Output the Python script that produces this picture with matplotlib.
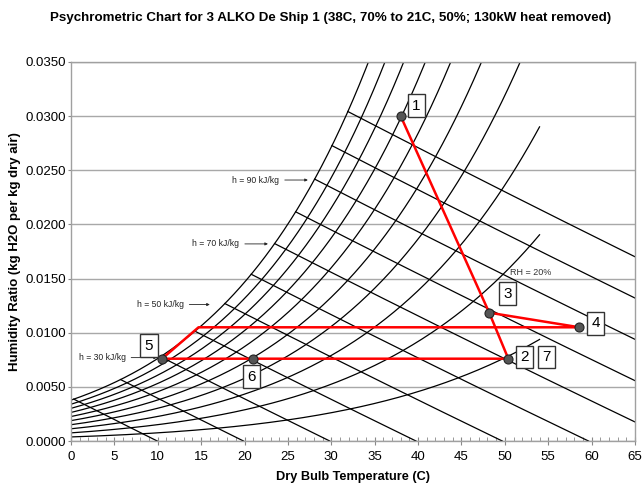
import numpy as np
import matplotlib
matplotlib.use('Agg')
import matplotlib.pyplot as plt
from matplotlib.ticker import MultipleLocator, FormatStrFormatter

plt.rcParams['font.family'] = ['Liberation Sans', 'DejaVu Sans']

# chart data
rh_levels = [10, 20, 30, 40, 50, 60, 70, 80, 90, 100]      # % relative humidity curves
h_levels = [10, 20, 30, 40, 50, 60, 70, 80, 90, 100, 110]  # kJ/kg enthalpy lines
rh_t_max = 54.0                                            # where the RH curves stop

state_ids = ['1', '2', '3', '4', '5', '6', '7']
state_T = [38.0, 50.4, 48.2, 58.6, 10.5, 21.0, 50.4]
state_w = [0.0300, 0.0076, 0.01185, 0.0105, 0.0076, 0.0076, 0.0076]

# process lines (red)
seg1_T = [38.0, 48.2, 50.4]
seg1_w = [0.0300, 0.01185, 0.0076]
seg2_T = [48.2, 58.6, 14.7, 10.5, 21.0, 50.4]
seg2_w = [0.01185, 0.0105, 0.0105, 0.0076, 0.0076, 0.0076]

h_label_vals = [90, 70, 50, 30]
h_label_T = [24.0, 19.4, 13.0, 6.3]
h_label_w = [0.0241, 0.0182, 0.0126, 0.0077]
h_tip_T = [27.3, 22.7, 16.0, 9.9]

P_ATM = 101.325


def p_sat(T):
    return 0.61094 * np.exp(17.625 * T / (T + 243.04))


def w_from_pv(pv):
    return 0.622 * pv / (P_ATM - pv)


fig = plt.figure(figsize=(6.44, 4.90), dpi=100)
ax = fig.add_axes([0.1102, 0.10, 0.8758, 0.7735])

# RH curves
T = np.linspace(0, rh_t_max, 300)
for rh in rh_levels:
    ax.plot(T, w_from_pv(rh / 100.0 * p_sat(T)), color='black', lw=0.9, zorder=2)

# enthalpy lines, from saturation down to w = 0
Tg = np.linspace(-5, 70, 4000)
wg = w_from_pv(p_sat(Tg))
hg = 1.006 * Tg + wg * (2501 + 1.86 * Tg)
for h in h_levels:
    t0 = np.interp(h, hg, Tg)
    Th = np.linspace(t0, h / 1.006, 200)
    wh = (h - 1.006 * Th) / (2501 + 1.86 * Th)
    ax.plot(Th, wh, color='black', lw=0.9, zorder=2)

# process path
ax.plot(seg1_T, seg1_w, color='red', lw=1.8, zorder=3)
ax.plot(seg2_T, seg2_w, color='red', lw=1.8, zorder=3)
ax.plot(state_T[:6], state_w[:6], 'o', color='#555555', mec='#222222',
        ms=6.5, mew=0.8, zorder=4, linestyle='none')

# state number boxes (offsets in points)
offsets = [(11.2, 7.6), (11.5, 1.1), (13, 13.7), (11.5, 2.9), (-9.4, 9.4),
           (-1.4, -13), (27.4, 1.1)]
for sid, t, w, off in zip(state_ids, state_T, state_w, offsets):
    ax.annotate(sid, (t, w), xytext=off, textcoords='offset points',
                ha='center', va='center', fontsize=11, zorder=5,
                bbox=dict(boxstyle='square,pad=0.28', fc='white', ec='#333333', lw=1))

# enthalpy labels
for hv, tx, wy, tip in zip(h_label_vals, h_label_T, h_label_w, h_tip_T):
    ax.annotate(f'h = {hv} kJ/kg', xy=(tip, wy), xytext=(tx, wy),
                ha='right', va='center', fontsize=6.2, color='#222222',
                arrowprops=dict(arrowstyle='-|>', lw=0.6, color='#222222',
                                mutation_scale=4, shrinkA=2, shrinkB=0))

ax.text(50.6, 0.0156, 'RH = 20%', fontsize=6.5, color='#333333', ha='left', va='center')

ax.set_xlim(0, 65)
ax.set_ylim(0, 0.035)
ax.xaxis.set_major_locator(MultipleLocator(5))
ax.xaxis.set_minor_locator(MultipleLocator(1))
ax.yaxis.set_major_locator(MultipleLocator(0.005))
ax.yaxis.set_major_formatter(FormatStrFormatter('%.4f'))
ax.tick_params(axis='x', which='major', direction='inout', length=6, color='#888888',
               labelsize=9.5, pad=4)
ax.tick_params(axis='x', which='minor', direction='in', length=3, color='#888888')
ax.tick_params(axis='y', which='major', direction='out', length=2.5, color='#888888',
               labelsize=9.5, pad=1.2)
ax.grid(True, axis='y', color='#a8a8a8', lw=1.0, zorder=1)
for sp in ax.spines.values():
    sp.set_color('#a0a0a0')
    sp.set_linewidth(1.0)

ax.set_xlabel('Dry Bulb Temperature (C)', fontsize=9.2, fontweight='bold', labelpad=6)
ax.set_ylabel('Humidity Ratio (kg H2O per kg dry air)', fontsize=9.5, fontweight='bold')
ax.yaxis.set_label_coords(-0.088, 0.5)
fig.suptitle('Psychrometric Chart for 3 ALKO De Ship 1 (38C, 70% to 21C, 50%; 130kW heat removed)',
             fontsize=9.6, fontweight='bold', x=0.513, y=0.975)

fig.savefig('out.png', dpi=100)
